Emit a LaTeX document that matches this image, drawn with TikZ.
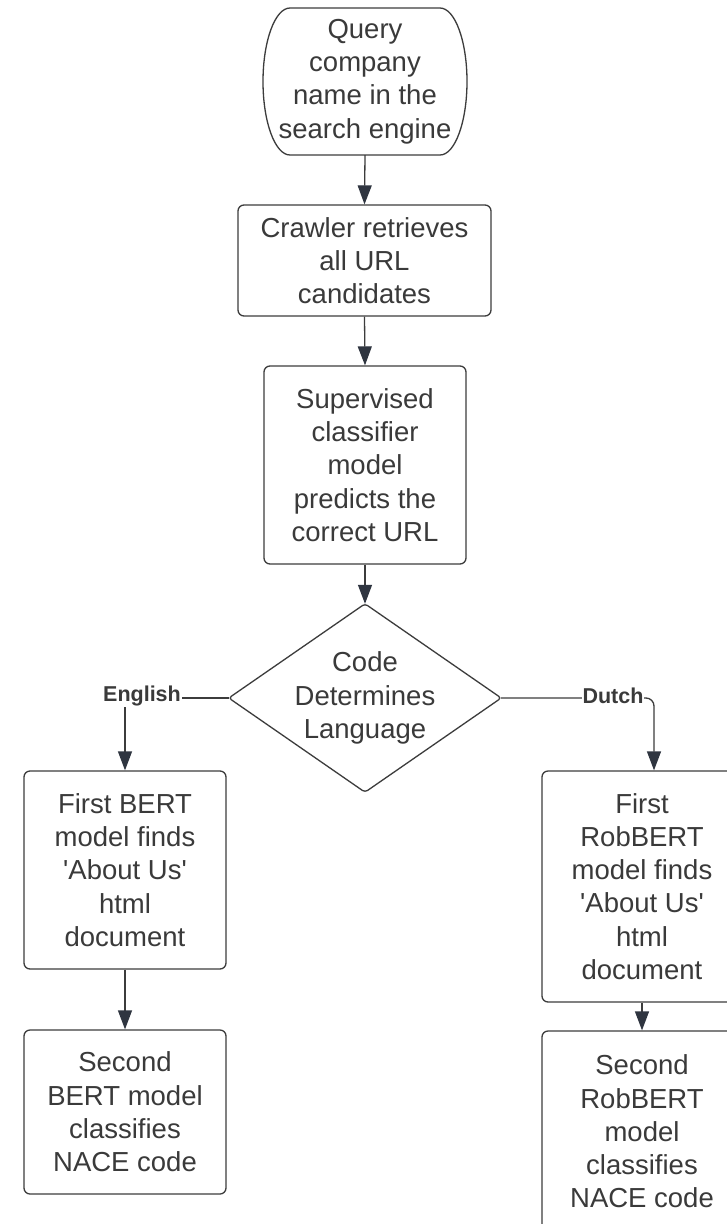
\documentclass[tikz,border=0pt]{standalone}
\usepackage{fontspec}
\setmainfont{Liberation Sans}[Ligatures=TeXOff]
\usetikzlibrary{arrows.meta}
\definecolor{txt}{HTML}{3A3A3A}
\definecolor{ln}{HTML}{3C3C3C}
\definecolor{tip}{HTML}{2F3540}
\tikzset{
  lbl/.style={text=txt, align=center, font=\fontsize{27.5}{33.3}\selectfont, inner sep=0pt},
  stepbox/.style={lbl, draw=ln, line width=1.3pt, rounded corners=6pt},
  conn/.style={draw=ln, line width=1.3pt, -{Triangle[length=19pt,width=14pt,fill=tip,color=tip]}},
  branchlbl/.style={text=txt, font=\fontsize{21.5}{24}\selectfont\bfseries, fill=white, inner sep=1pt}
}
\begin{document}
\begin{tikzpicture}[x=1pt,y=-1pt]
\clip (0,0) rectangle (727,1224);
\fill[white] (0,0) rectangle (727,1224);
% top terminator
\node[lbl, minimum width=204pt, minimum height=147pt] (q) at (365,81.5) {Query\\company\\name in the\\search engine};
\draw[ln, line width=1.3pt] (290,8) -- (440,8)
  arc[start angle=90, end angle=-90, x radius=27pt, y radius=73.5pt]
  -- (290,155)
  arc[start angle=270, end angle=90, x radius=27pt, y radius=73.5pt] -- cycle;
\node[stepbox, minimum width=253pt, minimum height=111pt] (b2) at (364.5,260.5) {Crawler retrieves\\all URL\\candidates};
\node[stepbox, minimum width=202pt, minimum height=198pt] (b3) at (365,465) {Supervised\\classifier\\model\\predicts the\\correct URL};
\node[lbl, minimum width=272pt, minimum height=188pt] (d) at (365,698) {Code\\Determines\\Language};
\draw[ln, line width=1.3pt, rounded corners=3pt] (d.north) -- (d.east) -- (d.south) -- (d.west) -- cycle;
\node[stepbox, minimum width=202pt, minimum height=198pt] (e1) at (125,870) {First BERT\\model finds\\'About Us'\\html\\document};
\node[stepbox, minimum width=202pt, minimum height=164pt] (e2) at (125,1112) {Second\\BERT model\\classifies\\NACE code};
\node[stepbox, minimum width=200pt, minimum height=231pt] (n1) at (642,886.5) {First\\RobBERT\\model finds\\'About Us'\\html\\document};
\node[stepbox, minimum width=200pt, minimum height=201pt] (n2) at (642,1131.5) {Second\\RobBERT\\model\\classifies\\NACE code};
\coordinate (ce) at (125,698);
\coordinate (cd) at (654,698);
% connectors
\draw[conn] (q.south) -- (b2.north);
\draw[conn] (b2.south) -- (b3.north);
\draw[conn] (b3.south) -- (d.north);
\draw[conn] (d.west) -- (ce) -- (e1.north);
\draw[conn, rounded corners=8pt] (d.east) -- (cd) -- (cd |- n1.north);
\draw[conn] (e1.south) -- (e2.north);
\draw[conn] (n1.south) -- (n2.north);
\node[branchlbl] (len) at (142,696) {English};
\node[branchlbl] (ldu) at (613,696) {Dutch};
\end{tikzpicture}
\end{document}
